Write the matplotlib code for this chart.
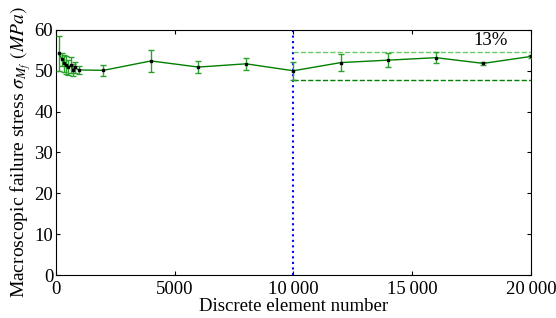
import matplotlib
matplotlib.use("Agg")
import matplotlib.pyplot as plt
from matplotlib.ticker import FuncFormatter

plt.rcParams['font.family'] = ['Liberation Serif', 'DejaVu Serif']
plt.rcParams['mathtext.fontset'] = 'stix'

# discrete element number vs. macroscopic failure stress (MPa)
n_elem = [120, 250, 340, 420, 520, 630, 715, 800, 950, 2000, 4000, 6000, 8000,
          10000, 12000, 14000, 16000, 18000, 20000]
stress = [54.3, 52.8, 51.8, 51.4, 50.8, 51.4, 50.2, 50.8, 50.2, 50.1, 52.4, 50.9, 51.7,
          50.0, 52.0, 52.6, 53.2, 51.8, 53.5]
err = [4.3, 1.6, 2.0, 2.2, 1.9, 2.0, 1.5, 1.3, 1.0, 1.4, 2.8, 1.5, 1.5,
       2.2, 2.0, 1.7, 1.4, 0.3, 0.3]

band_upper = 54.7
band_lower = 47.7
band_x = [10000, 20000]

fig = plt.figure(figsize=(5.56, 3.18), dpi=100)
ax = fig.add_axes([0.1007, 0.135, 0.854, 0.771])

ax.errorbar(n_elem, stress, yerr=err, color='green', lw=1.0, ecolor='#2ca02c',
            elinewidth=1.0, capsize=2, capthick=1.0, marker='s', markersize=2,
            mfc='black', mec='black', zorder=3)

ax.axvline(10000, color='blue', ls=':', lw=1.5)
ax.plot(band_x, [band_upper] * 2, color='#66cc66', ls='--', lw=1.0)
ax.plot(band_x, [band_lower] * 2, color='green', ls='--', lw=1.0)
ax.text(18300, 55.4, '13%', fontsize=13.5, ha='center', va='bottom')

ax.set_xlim(0, 20000)
ax.set_ylim(0, 60)
ax.set_xticks([0, 5000, 10000, 15000, 20000])
ax.set_yticks(range(0, 61, 10))


def fmt(v, pos):
    v = int(v)
    if v >= 10000:
        return f'{v // 1000}\u2009{v % 1000:03d}'
    return str(v)


ax.xaxis.set_major_formatter(FuncFormatter(fmt))
ax.tick_params(direction='in', top=True, right=True, labelsize=13.5, length=3, pad=2)
ax.tick_params(axis='x', pad=4)
ax.set_xlabel('Discrete element number', fontsize=13.5, labelpad=0)
ax.set_ylabel(r'Macroscopic failure stress $\sigma_{M_f}$ $(MPa)$', fontsize=14, labelpad=1)

fig.savefig('out.png', dpi=100)
